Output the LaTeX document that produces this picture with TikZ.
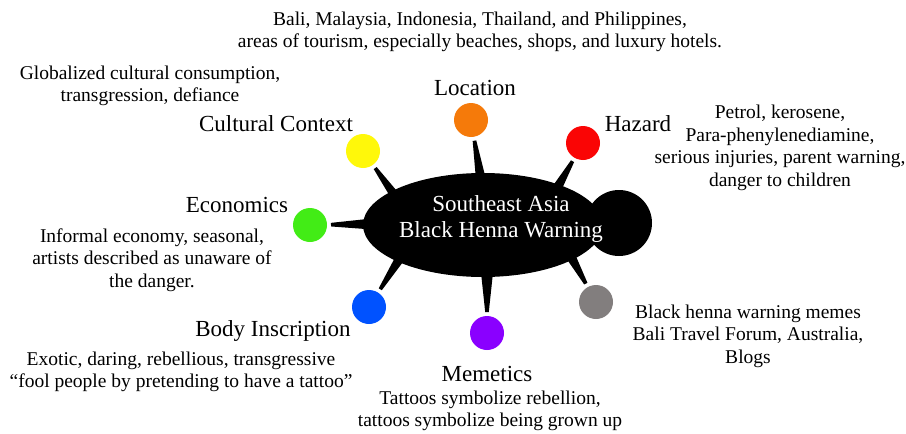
\documentclass[tikz,border=0pt]{standalone}
\usepackage{fontspec}
\setmainfont{Liberation Serif}
\usetikzlibrary{calc,shapes.geometric}
\definecolor{dotorange}{RGB}{245,122,10}
\definecolor{dotred}{RGB}{250,5,5}
\definecolor{dotyellow}{RGB}{255,248,10}
\definecolor{dotgreen}{RGB}{66,236,22}
\definecolor{dotblue}{RGB}{0,82,255}
\definecolor{dotpurple}{RGB}{138,0,255}
\definecolor{dotgrey}{RGB}{130,126,126}
\tikzset{
    dot/.style={circle,fill=#1,minimum size=34pt,inner sep=0pt},
    head/.style={align=center,font=\fontsize{23}{27}\selectfont,inner sep=0pt},
    desc/.style={align=center,font=\fontsize{19.5}{22.5}\selectfont,inner sep=0pt}
}
% tapered spike from a base point to a dot
\newcommand{\spike}[3]{%
    \coordinate (t) at ($(#2)!21pt!(#1)$);
    \fill ($(#1)!#3!90:(t)$) -- ($(t)!1.8pt!-90:(#1)$) -- ($(t)!1.8pt!90:(#1)$) -- ($(#1)!#3!-90:(t)$) -- cycle;}
\begin{document}
\begin{tikzpicture}[x=1pt,y=-1pt]
    \useasboundingbox (0,0) rectangle (906,434);
    % dots
    \node[dot=dotorange] (loc) at (471,120) {};
    \node[dot=dotred] (haz) at (583,143) {};
    \node[dot=dotyellow] (cul) at (363,151) {};
    \node[dot=dotgreen] (eco) at (310,225) {};
    \node[dot=dotblue] (body) at (369,307) {};
    \node[dot=dotpurple] (mem) at (487,333) {};
    \node[dot=dotgrey] (web) at (596,302) {};
    % spikes
    \coordinate (bloc) at (481,180);
    \coordinate (bhaz) at (556,190);
    \coordinate (bcul) at (398,200);
    \coordinate (beco) at (372,224);
    \coordinate (bbody) at (402,255);
    \coordinate (bmem) at (487,268);
    \coordinate (bweb) at (570,255);
    \spike{bloc}{loc}{5pt}
    \spike{bhaz}{haz}{5pt}
    \spike{bcul}{cul}{5pt}
    \spike{beco}{eco}{5.5pt}
    \spike{bbody}{body}{5pt}
    \spike{bmem}{mem}{6.5pt}
    \spike{bweb}{web}{5pt}
    % hub
    \node[ellipse,fill=black,minimum width=240pt,minimum height=104pt,inner sep=0pt] (hub) at (483,225) {};
    \node[circle,fill=black,minimum size=66pt,inner sep=0pt] (knob) at (619,223) {};
    \node[head,text=white] (hubtext) at (501,219) {Southeast Asia\\Black Henna Warning};
    % headings
    \node[head] (hloc) at (475,88) {Location};
    \node[head] (hhaz) at (638,124) {Hazard};
    \node[head] (hcul) at (276,124) {Cultural Context};
    \node[head] (heco) at (237,205) {Economics};
    \node[head] (hbody) at (273,331) {Body Inscription};
    \node[head] (hmem) at (487,374) {Memetics};
    % descriptions
    \node[desc] (dloc) at (480,32) {Bali, Malaysia, Indonesia, Thailand, and Philippines,\\areas of tourism, especially beaches, shops, and luxury hotels.};
    \node[desc] (dcul) at (150,86) {Globalized cultural consumption,\\transgression, defiance};
    \node[desc] (dhaz) at (780,148) {Petrol, kerosene,\\Para-phenylenediamine,\\serious injuries, parent warning,\\danger to children};
    \node[desc] (deco) at (152,260) {Informal economy, seasonal,\\artists described as unaware of\\the danger.};
    \node[desc] (dbody) at (181,372) {Exotic, daring, rebellious, transgressive\\“fool people by pretending to have a tattoo”};
    \node[desc] (dmem) at (490,411) {Tattoos symbolize rebellion,\\tattoos symbolize being grown up};
    \node[desc] (dweb) at (748,336) {Black henna warning memes\\Bali Travel Forum, Australia,\\Blogs};
\end{tikzpicture}
\end{document}
